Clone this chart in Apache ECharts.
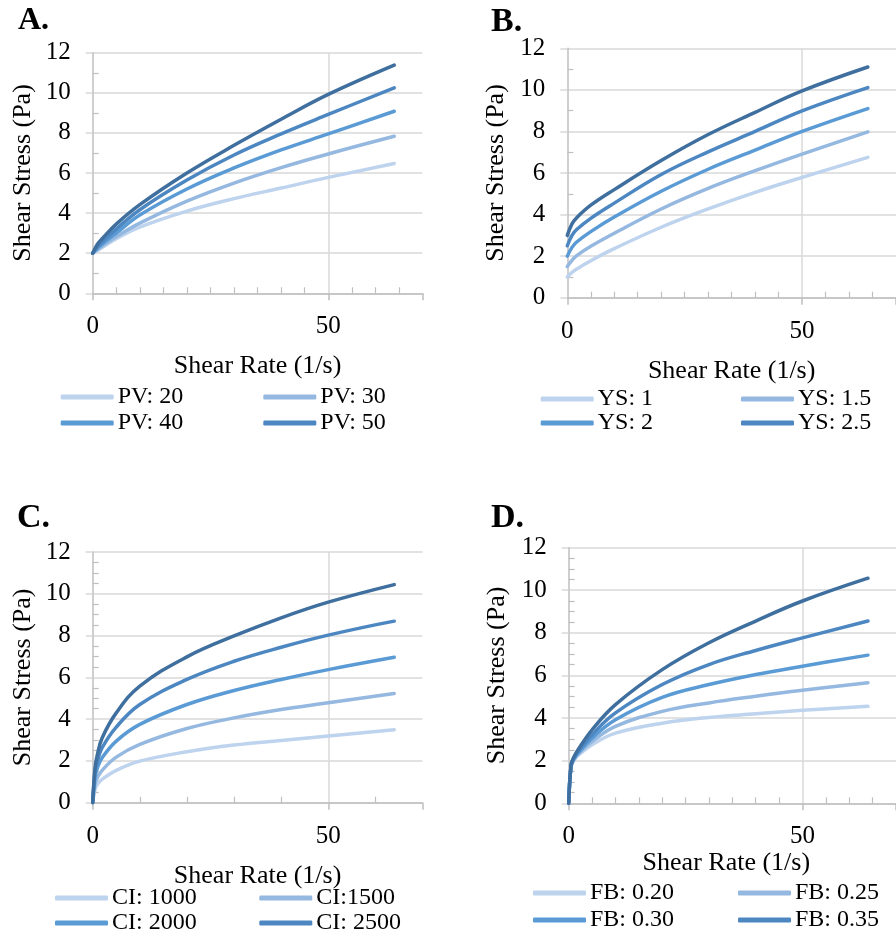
<!DOCTYPE html>
<html>
<head>
<meta charset="utf-8">
<script src="https://cdn.jsdelivr.net/npm/echarts@6/dist/echarts.min.js"></script>
<style>
html, body { margin: 0; padding: 0; background: #fff; }
#chart { width: 896px; height: 938px; }
</style>
</head>
<body>
<div id="chart"></div>
<script>
const chart = echarts.init(document.getElementById("chart"));

const FONT = '"Liberation Serif", "Times New Roman", serif';
const COLORS = ["#bed3ed", "#95b8e0", "#5b9bd5", "#4d87c2", "#3f6f9e"];

// shear rate points (1/s)
const rateAB = [0, 1, 2, 5, 10, 20, 30, 40, 50, 64];
const rateCD = [0, 0.5, 1, 2, 5, 10, 20, 30, 40, 50, 64];

// A. plastic viscosity
const namesA = ["PV: 20", "PV: 30", "PV: 40", "PV: 50", "PV: 60"];
const stressA = [
	[2, 2.13, 2.28, 2.72, 3.3, 4.1, 4.72, 5.25, 5.78, 6.47],
	[2, 2.18, 2.35, 2.82, 3.5, 4.6, 5.5, 6.27, 6.95, 7.83],
	[2, 2.25, 2.45, 3.0, 3.9, 5.2, 6.25, 7.15, 7.95, 9.08],
	[2, 2.32, 2.55, 3.2, 4.17, 5.65, 6.9, 7.95, 8.92, 10.25],
	[2, 2.45, 2.72, 3.45, 4.42, 6.0, 7.38, 8.68, 9.92, 11.38]
];

// B. yield stress
const namesB = ["YS: 1", "YS: 1.5", "YS: 2", "YS: 2.5", "YS: 3"];
const stressB = [
	[1, 1.22, 1.38, 1.78, 2.36, 3.39, 4.27, 5.07, 5.79, 6.75],
	[1.5, 1.8, 2.02, 2.47, 3.1, 4.27, 5.26, 6.11, 6.91, 7.98],
	[2, 2.42, 2.68, 3.18, 3.88, 5.12, 6.18, 7.1, 8.0, 9.1],
	[2.5, 3.0, 3.28, 3.82, 4.55, 5.93, 7.02, 8.0, 8.99, 10.11],
	[3, 3.55, 3.85, 4.45, 5.2, 6.6, 7.85, 8.92, 9.95, 11.1]
];

// C. consistency index
const namesC = ["CI: 1000", "CI:1500", "CI: 2000", "CI: 2500", "CI: 3000"];
const stressC = [
	[0, 0.64, 0.88, 1.12, 1.55, 1.99, 2.44, 2.76, 2.98, 3.19, 3.49],
	[0, 0.88, 1.2, 1.55, 2.18, 2.79, 3.55, 4.06, 4.46, 4.78, 5.23],
	[0, 1.2, 1.67, 2.15, 2.95, 3.75, 4.7, 5.37, 5.9, 6.37, 6.96],
	[0, 1.51, 1.99, 2.63, 3.62, 4.7, 5.9, 6.77, 7.44, 8.02, 8.69],
	[0, 1.67, 2.31, 3.1, 4.3, 5.58, 6.98, 7.98, 8.85, 9.6, 10.44]
];

// D. flow behaviour index
const namesD = ["FB: 0.20", "FB: 0.25", "FB: 0.30", "FB: 0.35", "FB: 0.40"];
const stressD = [
	[0, 1.7, 1.96, 2.24, 2.75, 3.29, 3.76, 4.03, 4.2, 4.36, 4.55],
	[0, 1.72, 2.01, 2.31, 2.9, 3.61, 4.31, 4.71, 5.02, 5.3, 5.65],
	[0, 1.74, 2.04, 2.35, 3.06, 3.92, 4.97, 5.57, 6.04, 6.43, 6.95],
	[0, 1.77, 2.09, 2.43, 3.22, 4.24, 5.57, 6.51, 7.17, 7.76, 8.55],
	[0, 1.8, 2.12, 2.51, 3.45, 4.63, 6.27, 7.53, 8.55, 9.49, 10.56]
];

const xTicks = [0, 50];
const yTicks = [0, 2, 4, 6, 8, 10, 12];

const panels = [
	{ tag: "A.", tagPos: [18, 5], tagSize: 32, names: namesA, rate: rateAB, stress: stressA,
		grid: { left: 92.7, top: 52.7, width: 329.8, height: 240.6 },
		xMinor: 10, yMinor: 2, xGap: 60, yGap: 57, xPad: 0,
		leg: { top: 385, gap: 2, col: [60.7, 263.3] } },
	{ tag: "B.", tagPos: [491, 5], tagSize: 34, names: namesB, rate: rateAB, stress: stressB,
		grid: { left: 567.3, top: 48.3, width: 331.4, height: 249.4 },
		xMinor: 10, yMinor: 2, xGap: 60, yGap: 58, xPad: 0,
		leg: { top: 387, gap: 0, col: [540.7, 741] } },
	{ tag: "C.", tagPos: [17, 501], tagSize: 34, names: namesC, rate: rateCD, stress: stressC,
		grid: { left: 92.7, top: 552, width: 329.8, height: 250.7 },
		xMinor: 5, yMinor: 4, xGap: 60, yGap: 57, xPad: 0,
		leg: { top: 886, gap: 1, col: [55, 259.3] } },
	{ tag: "D.", tagPos: [491, 501], tagSize: 34, names: namesD, rate: rateCD, stress: stressD,
		grid: { left: 568.7, top: 547.5, width: 330.4, height: 255.8 },
		xMinor: 10, yMinor: 4, xGap: 47, yGap: 59, xPad: 12,
		leg: { top: 881, gap: 3, col: [533, 738] } }
];

const axisGray = "#bfbfbf";
const gridGray = "#d9d9d9";

const option = {
	animation: false,
	backgroundColor: "#fff",
	textStyle: { fontFamily: FONT, color: "#000" },
	title: [],
	grid: [],
	xAxis: [],
	yAxis: [],
	legend: [],
	series: []
};

panels.forEach((p, i) => {
	option.title.push({
		text: p.tag,
		left: p.tagPos[0],
		top: p.tagPos[1],
		padding: 0,
		textStyle: { fontFamily: FONT, fontWeight: "bold", fontSize: p.tagSize, color: "#000" }
	});
	option.grid.push(Object.assign({ containLabel: false }, p.grid));
	option.xAxis.push({
		gridIndex: i,
		type: "value",
		min: xTicks[0],
		max: 70,
		interval: xTicks[1] - xTicks[0],
		name: "Shear Rate (1/s)",
		nameLocation: "middle",
		nameGap: p.xGap,
		nameTextStyle: { fontFamily: FONT, fontSize: 26, color: "#000", padding: [0, p.xPad, 0, 0] },
		axisLine: { lineStyle: { color: axisGray, width: 1.5 } },
		axisTick: { length: 7, lineStyle: { color: axisGray, width: 1.5 } },
		minorTick: { show: true, splitNumber: p.xMinor, length: -6, lineStyle: { color: axisGray, width: 1.2 } },
		axisLabel: { fontFamily: FONT, fontSize: 25, color: "#000", margin: 21, showMaxLabel: false },
		splitLine: { show: true, showMinLine: false, showMaxLine: false, lineStyle: { color: gridGray, width: 1.5 } }
	});
	option.yAxis.push({
		gridIndex: i,
		type: "value",
		min: yTicks[0],
		max: yTicks[yTicks.length - 1],
		interval: yTicks[1] - yTicks[0],
		name: "Shear Stress (Pa)",
		nameLocation: "middle",
		nameGap: p.yGap,
		nameTextStyle: { fontFamily: FONT, fontSize: 26, color: "#000" },
		axisLine: { show: true, lineStyle: { color: axisGray, width: 1.5 } },
		axisTick: { show: true, length: 7, lineStyle: { color: gridGray, width: 1.5 } },
		minorTick: { show: true, splitNumber: p.yMinor, length: -6, lineStyle: { color: axisGray, width: 1.2 } },
		axisLabel: { fontFamily: FONT, fontSize: 25, color: "#000", margin: 22 },
		splitLine: { show: true, lineStyle: { color: gridGray, width: 1.5 } }
	});
	// legend in two columns, first four series only
	[[0, 2], [1, 3]].forEach((idx, c) => {
		option.legend.push({
			orient: "vertical",
			left: p.leg.col[c],
			top: p.leg.top,
			padding: 0,
			itemGap: p.leg.gap,
			itemWidth: 53,
			itemHeight: 5,
			icon: "roundRect",
			selectedMode: false,
			data: idx.map(k => p.names[k]),
			textStyle: { fontFamily: FONT, fontSize: 24, color: "#000", padding: [0, 0, 0, -1] }
		});
	});
	p.stress.forEach((vals, k) => {
		option.series.push({
			name: p.names[k],
			type: "line",
			xAxisIndex: i,
			yAxisIndex: i,
			data: p.rate.map((x, j) => [x, vals[j]]),
			smooth: 0.4,
			symbol: "none",
			color: COLORS[k],
			lineStyle: { color: COLORS[k], width: 3.5, cap: "round", join: "round" }
		});
	});
});

chart.setOption(option);
window.onresize = chart.resize;
</script>
</body>
</html>
